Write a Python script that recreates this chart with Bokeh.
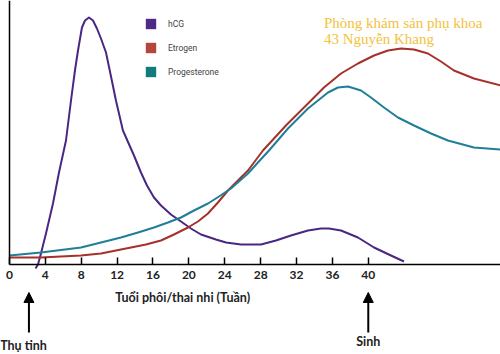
from bokeh.plotting import figure
from bokeh.models import (Range1d, FixedTicker, Label, Arrow, NormalHead, LinearAxis,
                          Legend, LegendItem, ColumnDataSource)
from bokeh.embed import file_html
from bokeh.resources import INLINE

# ---- data (weeks, relative level) ----
hcg_w = [2.90, 3.18, 3.51, 4.07, 4.85, 5.52, 6.30, 6.86, 7.30, 7.64, 8.08, 8.42, 8.86, 9.31,
         9.75, 10.2, 10.76, 11.32, 11.87, 12.65, 13.88, 14.66, 15.33, 16.11, 16.89, 18.0,
         19.12, 20.23, 21.35, 23.02, 24.14, 25.81, 28.04, 29.71, 31.38, 33.28, 34.73, 35.62,
         36.96, 38.85, 40.64, 42.53, 43.98]
hcg_v = [-4, 0, 11, 31, 61, 92, 124, 164, 194, 214, 237, 244, 247, 244,
         236, 226, 212, 188, 164, 134, 109, 92, 79, 67, 59, 50,
         43, 36, 30, 25, 22, 20, 20, 24, 29, 34, 36, 36,
         34, 27, 17, 9, 3]

est_w = [0, 3.51, 7.97, 10.2, 11.87, 13.55, 15.22, 16.89, 18.34, 19.9, 21.01, 22.13, 23.24,
         24.36, 25.47, 26.59, 28.26, 30.82, 33.28, 35.06, 36.96, 38.85, 40.64, 42.2, 43.65,
         45.1, 46.65, 48.1, 49.55, 51.78, 54.79]
est_v = [7, 7, 9, 11, 14, 17, 20, 24, 30, 37, 43, 51, 62,
         74, 84, 94, 114, 139, 161, 177, 191, 201, 209, 214, 216,
         215, 211, 203, 194, 186, 179]

pro_w = [0, 3.51, 7.97, 10.2, 12.43, 14.33, 16.11, 17.67, 19.12, 20.57, 22.13, 23.36, 24.69,
         26.59, 27.7, 28.93, 31.05, 33.28, 35.51, 36.62, 37.74, 39.19, 40.3, 41.75, 43.31,
         45.1, 47.0, 48.88, 51.78, 54.79]
pro_v = [9, 12, 17, 22, 27, 32, 37, 42, 47, 54, 61, 68, 76,
         91, 102, 114, 136, 156, 172, 177, 178, 174, 167, 157, 147,
         139, 131, 124, 117, 115]

x_ticks = [0, 4, 8, 12, 16, 20, 24, 28, 32, 36, 40]
series_names = ["hCG", "Etrogen", "Progesterone"]
legend_colors = ["#4e2a84", "#b5473a", "#127b7d"]
line_colors = ["#4a2782", "#a5312a", "#1f7f98"]
conception_week = 2.17
birth_week = 40

FONT = "Lato"
TXT = "#222222"

p = figure(width=500, height=354, output_backend="svg", toolbar_location=None,
           x_range=Range1d(-1.0, 54.74), y_range=Range1d(-90, 264),
           x_axis_type=None, y_axis_type=None,
           min_border_left=0, min_border_right=0, min_border_top=0, min_border_bottom=0)
p.outline_line_color = None
p.grid.visible = False

xax = LinearAxis(fixed_location=0, bounds=(0, 60), ticker=FixedTicker(ticks=x_ticks))
xax.major_tick_in = 7
xax.major_tick_out = 0
xax.minor_tick_line_color = None
xax.axis_line_width = 1.5
xax.major_tick_line_width = 1.5
xax.axis_line_color = "black"
xax.major_label_text_font = FONT
xax.major_label_text_font_size = "12px"
xax.major_label_text_font_style = "bold"
xax.major_label_text_color = TXT
xax.major_label_standoff = 6
p.add_layout(xax, "below")

yax = LinearAxis(fixed_location=0, bounds=(0, 264), ticker=FixedTicker(ticks=[]))
yax.major_tick_line_color = None
yax.minor_tick_line_color = None
yax.major_label_text_font_size = "0px"
yax.axis_line_width = 1.5
yax.axis_line_color = "black"
p.add_layout(yax, "left")

p.line(hcg_w, hcg_v, line_color=line_colors[0], line_width=2, line_join="round")
p.line(est_w, est_v, line_color=line_colors[1], line_width=2, line_join="round")
p.line(pro_w, pro_v, line_color=line_colors[2], line_width=2, line_join="round")

# legend with square swatches (degenerate, invisible quads carry the swatch style)
items = []
for name, col, ws, vs in zip(series_names, legend_colors, [hcg_w, est_w, pro_w], [hcg_v, est_v, pro_v]):
    src = ColumnDataSource(dict(x=ws, y=vs))
    r = p.quad(left="x", right="x", top="y", bottom="y", source=src,
               fill_color=col, line_color=None)
    items.append(LegendItem(label=name, renderers=[r]))
leg = Legend(items=items, location=(144, 276), glyph_width=13, glyph_height=13,
             label_height=13, spacing=11, padding=0, margin=0, label_standoff=11,
             label_text_font="Roboto", label_text_font_size="8.5px",
             background_fill_alpha=0, border_line_color=None)
p.add_layout(leg)

# axis title
p.add_layout(Label(x=19.3, y=-33, text="Tuổi phôi/thai nhi (Tuần)", text_align="center",
                   text_baseline="middle", text_font=FONT, text_font_size="12.5px",
                   text_font_style="bold", text_color=TXT))

# arrows + annotations
for xw in [conception_week, birth_week]:
    p.add_layout(Arrow(end=NormalHead(size=10, fill_color="black", line_color="black"),
                       x_start=xw, y_start=-68, x_end=xw, y_end=-28,
                       line_color="black", line_width=2))
p.add_layout(Label(x=1.56, y=-81, text="Thụ tinh", text_align="center", text_baseline="middle",
                   text_font=FONT, text_font_size="12.5px", text_font_style="bold",
                   text_color=TXT))
p.add_layout(Label(x=birth_week, y=-77, text="Sinh", text_align="center", text_baseline="middle",
                   text_font=FONT, text_font_size="12.5px", text_font_style="bold",
                   text_color=TXT))

# watermark
p.add_layout(Label(x=35.06, y=242, text="Phòng khám sản phụ khoa", text_align="left",
                   text_baseline="middle", text_font="Liberation Serif", text_font_size="15px",
                   text_color="#f2c23c"))
p.add_layout(Label(x=35.06, y=226, text="43 Nguyễn Khang", text_align="left",
                   text_baseline="middle", text_font="Liberation Serif", text_font_size="15px",
                   text_color="#f2c23c"))

open("out.html", "w").write(file_html(p, INLINE))
